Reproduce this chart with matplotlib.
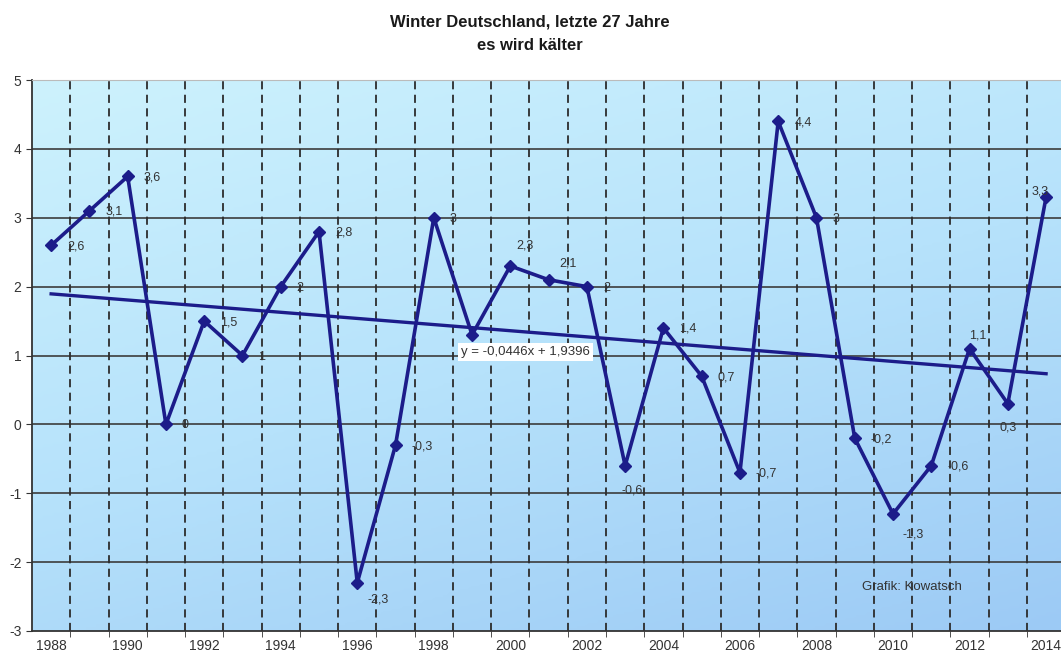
import numpy as np
import matplotlib
matplotlib.use('Agg')
import matplotlib.pyplot as plt
from matplotlib.colors import LinearSegmentedColormap

plt.rcParams['font.family'] = ['Liberation Sans', 'DejaVu Sans']
plt.rcParams['axes.unicode_minus'] = False

years = list(range(1988, 2015))
temps = [2.6, 3.1, 3.6, 0, 1.5, 1, 2, 2.8, -2.3, -0.3, 3, 1.3, 2.3, 2.1, 2,
         -0.6, 1.4, 0.7, -0.7, 4.4, 3, -0.2, -1.3, -0.6, 1.1, 0.3, 3.3]
trend_slope = -0.0446
trend_icpt = 1.9396
xtick_years = list(range(1988, 2015, 2))

# label placement (pixels): default is right of the point
lab_off = {2000: (15, 20, 'center'), 2001: (19, 16, 'center'), 2012: (8, 13, 'center'),
           1996: (21, -17, 'center'), 2003: (7, -25, 'center'), 2010: (20, -21, 'center'),
           2013: (0, -24, 'center'), 2014: (-6, 6, 'center')}
no_label = [1999]  # covered by the trend equation in the original

navy = '#1c1c8a'
W, H = 1061, 655
fig = plt.figure(figsize=(W / 100, H / 100), dpi=100)
ax = fig.add_axes([32 / W, (H - 631) / H, (W - 32) / W, (631 - 80) / H])

# background gradient: cyan at top, blue at bottom
cmap = LinearSegmentedColormap.from_list('bg', ['#cdf2fd', '#b6e2fb', '#9ccaf5'])
gx, gy = np.meshgrid(np.linspace(0, 1, 200), np.linspace(0, 1, 200))
grad = 0.65 * (1 - gy) + 0.35 * gx
ax.imshow(grad, extent=[1987.5, 2014.39, -3, 5], origin='lower', cmap=cmap,
          aspect='auto', zorder=0)

ax.set_xlim(1987.5, 2014.39)
ax.set_ylim(-3, 5)

# grid
for y in range(-2, 5):
    ax.axhline(y, color='#3c3c3c', lw=1.2, zorder=1)
for b in np.arange(1988.5, 2014, 1):
    ax.axvline(b, color='#2c2c2c', lw=1.3, ls=(0, (4.5, 3)), zorder=1)

# trend
idx = np.arange(1, len(years) + 1)
ax.plot(years, trend_slope * idx + trend_icpt, color=navy, lw=2.4, zorder=3)

# data
ax.plot(years, temps, color=navy, lw=2.6, marker='D', ms=6.5, zorder=4)

k = 72 / 100
for yr, t in zip(years, temps):
    if yr in no_label:
        continue
    txt = ('%g' % t).replace('.', ',')
    if yr in lab_off:
        dx, dy, ha = lab_off[yr]
    else:
        dx, dy, ha = 16, -1, 'left'
    ax.annotate(txt, (yr, t), xytext=(dx * k, dy * k), textcoords='offset points',
                ha=ha, va='center', fontsize=9, color='#333333', zorder=5)

ax.text(2000.39, 1.05, 'y = -0,0446x + 1,9396', ha='center', va='center', fontsize=9.5,
        color='#333333', zorder=6,
        bbox=dict(boxstyle='square,pad=0.25', fc='white', ec='none'))
ax.text(2010.5, -2.36, 'Grafik: Kowatsch', ha='center', va='center', fontsize=9.5,
        color='#333333', zorder=6)

ax.set_xticks(xtick_years)
ax.set_xticks(np.arange(1988.5, 2014, 1), minor=True)
ax.tick_params(axis='x', which='major', length=0, labelsize=10, labelcolor='#333333', pad=6)
ax.tick_params(axis='x', which='minor', length=4, color='#333333')
ax.set_yticks(range(-3, 6))
ax.tick_params(axis='y', length=4, labelsize=10, labelcolor='#333333', color='#333333')

for s in ['left', 'bottom']:
    ax.spines[s].set_color('#333333')
    ax.spines[s].set_linewidth(1.3)
ax.spines['top'].set_color('#bbbbbb')
ax.spines['right'].set_visible(False)

fig.text(530 / W, 1 - 22 / H, 'Winter Deutschland, letzte 27 Jahre', ha='center', va='center',
         fontsize=12, fontweight='bold', color='#1a1a1a')
fig.text(530 / W, 1 - 45 / H, 'es wird kälter', ha='center', va='center',
         fontsize=12, fontweight='bold', color='#1a1a1a')

fig.savefig('out.png', dpi=100)
